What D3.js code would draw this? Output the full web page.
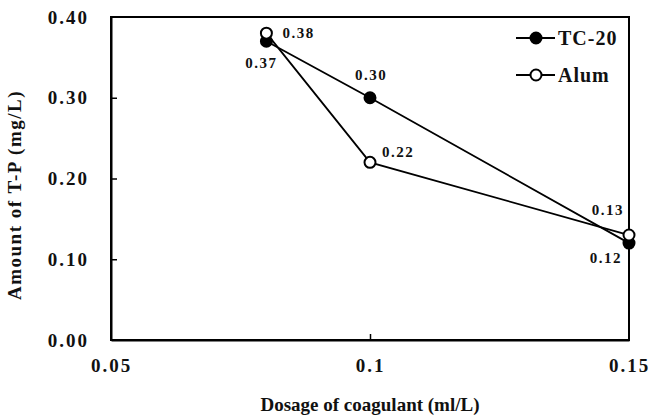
<!DOCTYPE html>
<html>
<head>
<meta charset="utf-8">
<script src="https://cdn.jsdelivr.net/npm/d3@7/dist/d3.min.js"></script>
<style>
  html, body { margin: 0; padding: 0; background: #fff; }
  svg { display: block; }
  svg text { font-family: "Liberation Serif", "Times New Roman", Times, "DejaVu Serif", "Noto Serif", serif !important; }
</style>
</head>
<body>
<svg id="chart" width="650" height="416"></svg>
<script>
// Coagulant dosage (ml/L)
const dosages = [0.08, 0.1, 0.15];
// Residual total phosphorus (mg/L)
const tc20 = [0.37, 0.30, 0.12];
const alum = [0.38, 0.22, 0.13];
const xTicks = [0.05, 0.1, 0.15];
const yTicks = [0, 0.1, 0.2, 0.3, 0.4];

const svg = d3.select("#chart");
const m = { left: 111, right: 629, top: 17, bottom: 340 };

const x = d3.scaleLinear().domain([0.05, 0.15]).range([m.left, m.right]);
const y = d3.scaleLinear().domain([0, 0.4]).range([m.bottom, m.top]);

// frame
svg.append("rect")
  .attr("x", m.left).attr("y", m.top)
  .attr("width", m.right - m.left).attr("height", m.bottom - m.top)
  .attr("fill", "none").attr("stroke", "#000").attr("stroke-width", 2);

// axes with inward ticks
const yAxis = d3.axisLeft(y).tickValues(yTicks).tickFormat(d3.format(".2f"))
  .tickSizeInner(-6).tickSizeOuter(0).tickPadding(22);
const gy = svg.append("g").attr("transform", `translate(${m.left},0)`).call(yAxis);
const xAxis = d3.axisBottom(x).tickValues(xTicks).tickFormat(d => String(d))
  .tickSizeInner(-6).tickSizeOuter(0).tickPadding(19);
const gx = svg.append("g").attr("transform", `translate(0,${m.bottom})`).call(xAxis);

[gx, gy].forEach(g => {
  g.attr("font-family", null);
  g.select(".domain").attr("stroke", "#000").attr("stroke-width", 2);
  g.selectAll(".tick line").attr("stroke", "#000").attr("stroke-width", 1.5);
  g.selectAll(".tick text")
    .attr("fill", "#111").attr("font-weight", "bold").attr("font-size", 19)
    .attr("letter-spacing", 2);
});
// hide ticks on the frame edges
gy.selectAll(".tick").filter(d => d === 0 || d === 0.4).select("line").remove();
gx.selectAll(".tick").filter(d => d === 0.05 || d === 0.15).select("line").remove();

// axis titles
svg.append("text")
  .attr("x", (m.left + m.right) / 2).attr("y", 411)
  .attr("text-anchor", "middle").attr("font-weight", "bold").attr("font-size", 19)
  .attr("fill", "#111").text("Dosage of coagulant (ml/L)");
svg.append("text")
  .attr("transform", "translate(21,195) rotate(-90)")
  .attr("text-anchor", "middle").attr("font-weight", "bold").attr("font-size", 19)
  .attr("letter-spacing", 1.5)
  .attr("fill", "#111").text("Amount of T-P (mg/L)");

const line = d3.line().x(d => x(d[0])).y(d => y(d[1]));
const series = [
  { name: "TC-20", values: tc20, fill: "#000" },
  { name: "Alum", values: alum, fill: "#fff" }
];

series.forEach(s => {
  const pts = dosages.map((d, i) => [d, s.values[i]]);
  svg.append("path").datum(pts).attr("d", line)
    .attr("fill", "none").attr("stroke", "#000").attr("stroke-width", 1.8);
});
series.forEach(s => {
  const pts = dosages.map((d, i) => [d, s.values[i]]);
  svg.selectAll(null).data(pts).enter().append("circle")
    .attr("cx", d => x(d[0])).attr("cy", d => y(d[1])).attr("r", 5.5)
    .attr("fill", s.fill).attr("stroke", "#000").attr("stroke-width", 2);
});

// value labels: [series, index, dx, dy, anchor]
const labelPos = [
  [alum, 0, 16, 5, "start"],
  [tc20, 0, -5, 27, "middle"],
  [tc20, 1, 1, -18, "middle"],
  [alum, 1, 12, -5, "start"],
  [alum, 2, -5, -20, "end"],
  [tc20, 2, -7, 20, "end"]
];
labelPos.forEach(([vals, i, dx, dy, anchor]) => {
  svg.append("text")
    .attr("x", x(dosages[i]) + dx).attr("y", y(vals[i]) + dy)
    .attr("text-anchor", anchor).attr("font-weight", "bold").attr("font-size", 15)
    .attr("letter-spacing", 1.5)
    .attr("fill", "#111").text(d3.format(".2f")(vals[i]));
});

// legend
const legend = svg.append("g");
series.forEach((s, i) => {
  const ly = 38 + i * 37;
  legend.append("line").attr("x1", 516).attr("x2", 555).attr("y1", ly).attr("y2", ly)
    .attr("stroke", "#000").attr("stroke-width", 1.8);
  legend.append("circle").attr("cx", 536).attr("cy", ly).attr("r", 5.5)
    .attr("fill", s.fill).attr("stroke", "#000").attr("stroke-width", 2);
  legend.append("text").attr("x", 558).attr("y", ly + 7)
    .attr("font-weight", "bold").attr("font-size", 20).attr("letter-spacing", 1)
    .attr("fill", "#111").text(s.name);
});
</script>
</body>
</html>
